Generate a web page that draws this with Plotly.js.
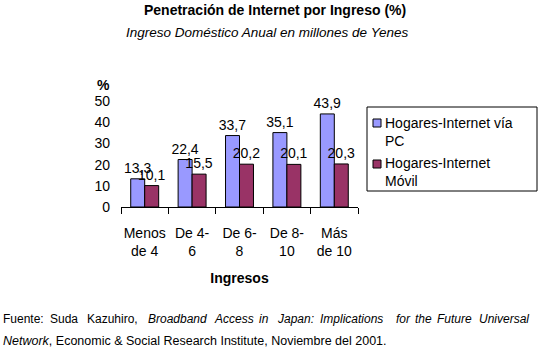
<!DOCTYPE html>
<html>
<head>
<meta charset="utf-8">
<script src="https://cdn.plot.ly/plotly-3.0.1.min.js"></script>
<style>html,body{margin:0;padding:0;background:#fff;}#chart{width:541px;height:357px;}</style>
</head>
<body>
<div id="chart"></div>
<script>
// ---- data ----
const categories = ["Menos<br>de 4", "De 4-<br>6", "De 6-<br>8", "De 8-<br>10", "Más<br>de 10"];
const pcValues = [13.3, 22.4, 33.7, 35.1, 43.9];
const movilValues = [10.1, 15.5, 20.2, 20.1, 20.3];
const seriesNames = ["Hogares-Internet vía<br>PC", "Hogares-Internet<br>Móvil"];
const seriesColors = ["#9999FF", "#993366"];
const yTicks = [0, 10, 20, 30, 40, 50];

const FONT = "Arial, 'Liberation Sans', sans-serif";
const W = 541, H = 357;
const L = 121, R = 358, T = 101, B = 207;
const px = x => (x - L) / (R - L);
const py = y => (B - y) / (B - T);

const traces = [pcValues, movilValues].map((vals, i) => ({
  type: "bar",
  x: categories,
  y: vals,
  name: seriesNames[i],
  marker: {color: seriesColors[i], line: {color: "#000", width: 1}},
  texttemplate: "%{y:.1f}",
  textposition: "outside",
  constraintext: "none",
  textfont: {family: FONT, size: 14, color: "#000"},
  cliponaxis: false,
  showlegend: false,
  hoverinfo: "skip"
}));

const annotations = [
  {text: "<b>Penetración de Internet por Ingreso (%)</b>", x: px(274.5), y: py(10), font: {size: 14}},
  {text: "<i>Ingreso Doméstico Anual en millones de Yenes</i>", x: px(266.5), y: py(33), font: {size: 13.5}},
  {text: "<b>%</b>", x: px(103), y: py(85), font: {size: 14}},
  {text: seriesNames[0], x: px(383), y: py(132), xanchor: "left", align: "left", font: {size: 14}},
  {text: seriesNames[1], x: px(383), y: py(172), xanchor: "left", align: "left", font: {size: 14}}
];

// footer (justified first line, placed word by word)
const footerWords = [
  ["Fuente:", 1, false], ["Suda", 48, false], ["Kazuhiro,", 85, false],
  ["Broadband", 146, true], ["Access", 212, true], ["in", 257, true], ["Japan:", 275, true],
  ["Implications", 318, true], ["for", 394, true], ["the", 413, true], ["Future", 435, true], ["Universal", 477, true]
];
footerWords.forEach(([w, x, it]) => annotations.push({
  text: it ? "<i>" + w + "</i>" : w, x: px(x), y: py(319), xanchor: "left", font: {size: 12}
}));
annotations.push({text: "<i>Network</i>, Economic &amp; Social Research Institute, Noviembre del 2001.",
  x: px(1), y: py(341), xanchor: "left", font: {size: 12.5}});

annotations.forEach(a => {
  a.xref = "paper"; a.yref = "paper"; a.showarrow = false;
  if (!a.xanchor) a.xanchor = "center";
  a.yanchor = "middle";
  a.font = Object.assign({family: FONT, color: "#000"}, a.font);
});

const shapes = [
  {type: "rect", x0: px(367), x1: px(537), y0: py(107), y1: py(191), line: {color: "#000", width: 1}, fillcolor: "rgba(0,0,0,0)"},
  {type: "rect", x0: px(373), x1: px(381), y0: py(119), y1: py(127), line: {color: "#000", width: 1}, fillcolor: seriesColors[0]},
  {type: "rect", x0: px(373), x1: px(381), y0: py(160), y1: py(168), line: {color: "#000", width: 1}, fillcolor: seriesColors[1]}
].map(s => Object.assign({xref: "paper", yref: "paper"}, s));

const layout = {
  width: W, height: H,
  margin: {l: L, r: W - R, t: T, b: H - B, pad: 0},
  paper_bgcolor: "#fff", plot_bgcolor: "#fff",
  separators: ",.",
  barmode: "group",
  bargap: 0.41,
  bargroupgap: 0,
  font: {family: FONT, size: 14, color: "#000"},
  xaxis: {
    type: "category",
    showline: true, linecolor: "#000", linewidth: 1,
    ticks: "outside", tickson: "boundaries", ticklen: 6, tickcolor: "#000",
    tickangle: 0,
    showgrid: false, zeroline: false,
    tickfont: {family: FONT, size: 14, color: "#000"},
    ticklabelstandoff: 13,
    title: {text: "<b>Ingresos</b>", font: {family: FONT, size: 14, color: "#000"}, standoff: 15}
  },
  yaxis: {
    range: [0, 50], tickvals: yTicks, ticktext: yTicks.map(String),
    showline: false, showgrid: false, zeroline: false, ticks: "",
    tickfont: {family: FONT, size: 14, color: "#000"},
    ticklabelstandoff: 10
  },
  annotations: annotations,
  shapes: shapes
};

Plotly.newPlot("chart", traces, layout, {staticPlot: true, displayModeBar: false});
</script>
</body>
</html>
